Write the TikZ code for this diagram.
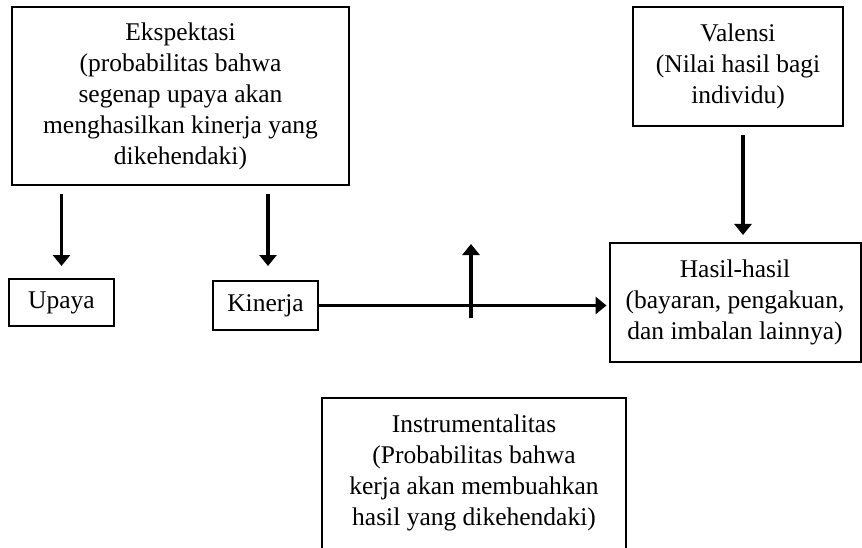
\documentclass[tikz,border=0pt]{standalone}
\usepackage{fontspec}
\setmainfont{Liberation Serif}
\usetikzlibrary{arrows.meta}
\begin{document}
\begin{tikzpicture}[x=1pt,y=-1pt,
  box/.style={draw, line width=2pt, align=center, inner sep=0pt,
    font=\fontsize{25.5pt}{31pt}\selectfont},
  txt/.style={align=center, inner sep=0pt, font=\fontsize{25.5pt}{31pt}\selectfont},
  arr/.style={line width=3.5pt, -{Triangle[length=11pt,width=17pt]}},
  plain/.style={line width=3.5pt}]
\useasboundingbox (0,0) rectangle (862,548);
\node[box, minimum width=337pt, minimum height=178pt] (eks) at (180.5,96)
  {Ekspektasi\\(probabilitas bahwa\\segenap upaya akan\\menghasilkan kinerja yang\\dikehendaki)};
\node[box, minimum width=210pt, minimum height=119pt] (val) at (738,66.5)
  {Valensi\\(Nilai hasil bagi\\individu)};
\node[box, minimum width=105pt, minimum height=47pt] (upa) at (61.5,302.5) {Upaya};
\node[box, minimum width=105pt, minimum height=49pt] (kin) at (265.5,305.5) {Kinerja};
\node[box, minimum width=251pt, minimum height=119pt] (has) at (735,302.5)
  {Hasil-hasil\\(bayaran, pengakuan,\\dan imbalan lainnya)};
\node[txt, minimum width=304pt, minimum height=150pt] (ins) at (474,473)
  {Instrumentalitas\\(Probabilitas bahwa\\kerja akan membuahkan\\hasil yang dikehendaki)};
\draw[line width=2pt] (ins.south west) |- (ins.north east) -- (ins.south east);
% arrows
\draw[arr, shorten <=8pt, shorten >=12pt] (eks.south -| upa.north) -- (upa.north);
\draw[arr, shorten <=8pt, shorten >=14pt] ([xshift=2.5pt]eks.south -| kin.north) -- ([xshift=2.5pt]kin.north);
\draw[arr, shorten <=8pt, shorten >=7pt] ([xshift=5pt]val.south) -- ([xshift=5pt]val.south |- has.north);
\draw[arr, shorten >=2pt] (kin.east) -- (kin.east -| has.west);
\coordinate (ia) at (471,318);
\coordinate (ib) at (471,244);
\draw[arr] (ia) -- (ib);
\end{tikzpicture}
\end{document}
